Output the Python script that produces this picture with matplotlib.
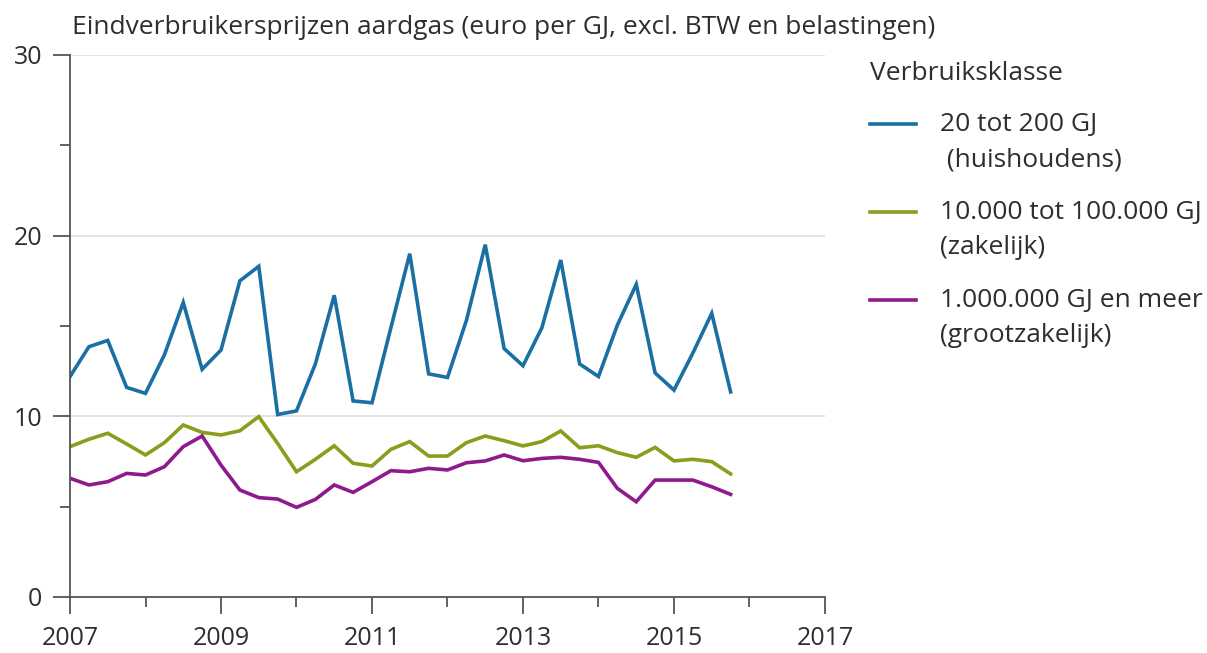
import matplotlib
matplotlib.use("Agg")
import matplotlib.pyplot as plt
from matplotlib.lines import Line2D
from matplotlib.ticker import FixedLocator

plt.rcParams["font.family"] = ["Open Sans", "DejaVu Sans"]

# kwartalen 2007 K1 t/m 2015 K4
years = [2007 + q / 4 for q in range(36)]

huishoudens = [12.2, 13.85, 14.2, 11.6,
               11.27, 13.4, 16.3, 12.6,
               13.67, 17.5, 18.3, 10.1,
               10.3, 12.9, 16.7, 10.85,
               10.75, 14.9, 19.0, 12.35,
               12.15, 15.3, 19.5, 13.75,
               12.8, 14.9, 18.65, 12.9,
               12.2, 15.05, 17.3, 12.4,
               11.45, 13.5, 15.7, 11.35]

zakelijk = [8.32, 8.73, 9.06, 8.47,
            7.86, 8.54, 9.52, 9.11,
            8.97, 9.2, 9.98, 8.5,
            6.93, 7.62, 8.37, 7.4,
            7.25, 8.17, 8.6, 7.8,
            7.8, 8.54, 8.91, 8.65,
            8.36, 8.6, 9.19, 8.26,
            8.37, 7.99, 7.73, 8.28,
            7.53, 7.62, 7.49, 6.81]

grootzakelijk = [6.57, 6.2, 6.38, 6.84,
                 6.75, 7.21, 8.32, 8.91,
                 7.3, 5.92, 5.5, 5.42,
                 4.96, 5.4, 6.2, 5.79,
                 6.38, 6.99, 6.93, 7.12,
                 7.03, 7.43, 7.53, 7.86,
                 7.54, 7.67, 7.73, 7.62,
                 7.45, 6.01, 5.27, 6.47,
                 6.47, 6.47, 6.1, 5.68]

series = [
    (huishoudens, "#1a6fa3", ["20 tot 200 GJ", " (huishoudens)"]),
    (zakelijk, "#8c9c1c", ["10.000 tot 100.000 GJ", "(zakelijk)"]),
    (grootzakelijk, "#8e1a8c", ["1.000.000 GJ en meer", "(grootzakelijk)"]),
]

text_color = "#2e2e2e"
axis_color = "#555555"
W, H = 1207, 653

fig = plt.figure(figsize=(12.07, 6.53), dpi=100)
ax = fig.add_axes([0.058, 0.0858, 0.6255, 0.830])

for values, color, _ in series:
    ax.plot(years, values, color=color, linewidth=2.6, solid_joinstyle="miter")

ax.set_xlim(2007, 2017)
ax.set_ylim(0, 30)

ax.xaxis.set_major_locator(FixedLocator([2007, 2009, 2011, 2013, 2015, 2017]))
ax.xaxis.set_minor_locator(FixedLocator([2008, 2010, 2012, 2014, 2016]))
ax.yaxis.set_major_locator(FixedLocator([0, 10, 20, 30]))
ax.yaxis.set_minor_locator(FixedLocator([5, 15, 25]))

ax.tick_params(axis="x", which="major", length=12, width=1.3, color=axis_color,
               labelsize=18, labelcolor=text_color, pad=9)
ax.tick_params(axis="x", which="minor", length=7, width=1.3, color=axis_color)
ax.tick_params(axis="y", which="major", length=12, width=1.3, color=axis_color,
               labelsize=18, labelcolor=text_color, pad=8)
ax.tick_params(axis="y", which="minor", length=7, width=1.3, color=axis_color)

for y in [10, 20, 30]:
    ax.axhline(y, color="#dddddd", linewidth=1.2, zorder=0)

for side in ["top", "right"]:
    ax.spines[side].set_visible(False)
for side in ["left", "bottom"]:
    ax.spines[side].set_color(axis_color)
    ax.spines[side].set_linewidth(1.3)

fig.text(72 / W, 1 - 28 / H, "Eindverbruikersprijzen aardgas (euro per GJ, excl. BTW en belastingen)",
         fontsize=19, color=text_color, va="center", ha="left")

# legenda
fig.text(870 / W, 1 - 73 / H, "Verbruiksklasse", fontsize=19,
         color=text_color, va="center", ha="left")
legend_y = [124, 212, 300]
for (values, color, lines), ly in zip(series, legend_y):
    fy = 1 - ly / H
    fig.add_artist(Line2D([870 / W, 916 / W], [fy, fy], color=color, linewidth=2.6))
    for i, line in enumerate(lines):
        fig.text(940 / W, 1 - (ly + 36 * i) / H, line, fontsize=19, color=text_color,
                 va="center", ha="left")

fig.savefig("out.png", dpi=100)
